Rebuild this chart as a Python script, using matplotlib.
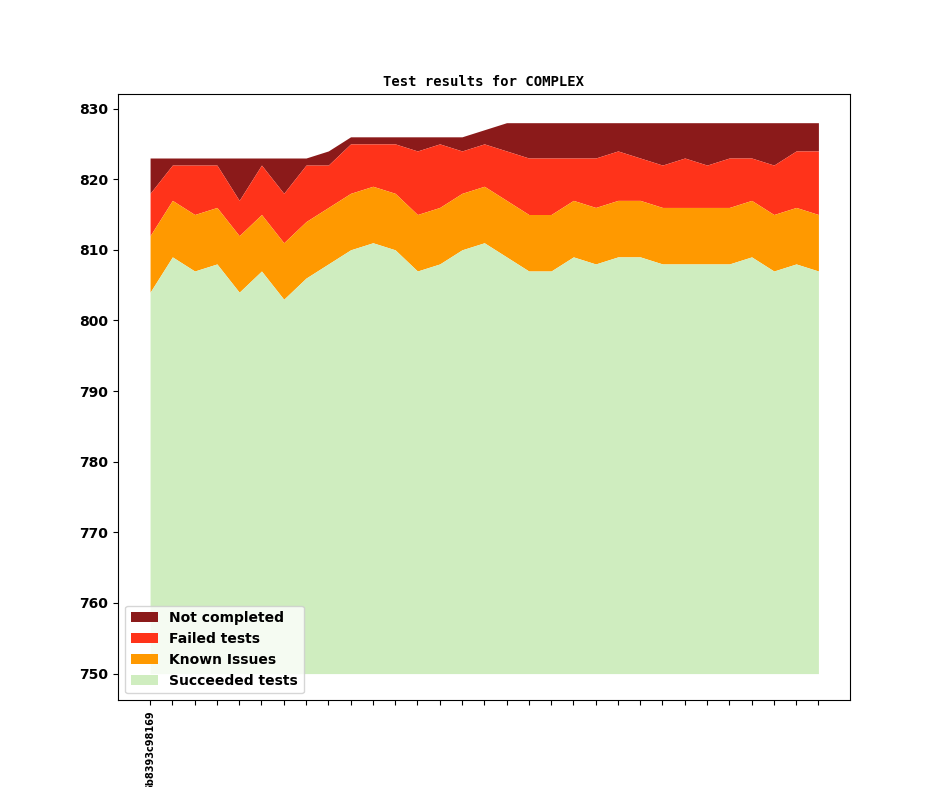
import numpy as np
import matplotlib.pyplot as plt

plt.rcParams['font.weight'] = 'bold'

succeeded = [804, 809, 807, 808, 804, 807, 803, 806, 808, 810, 811, 810, 807, 808, 810, 811,
             809, 807, 807, 809, 808, 809, 809, 808, 808, 808, 808, 809, 807, 808, 807]
known = [8] * 31
failed_top = [818, 822, 822, 822, 817, 822, 818, 822, 822, 825, 825, 825, 824, 825, 824, 825,
              824, 823, 823, 823, 823, 824, 823, 822, 823, 822, 823, 823, 822, 824, 824]
total = [823, 823, 823, 823, 823, 823, 823, 823, 824, 826, 826, 826, 826, 826, 826, 827,
         828, 828, 828, 828, 828, 828, 828, 828, 828, 828, 828, 828, 828, 828, 828]
labels = ['6b8393c98169'] + [''] * 30

x = np.arange(len(succeeded))
s = np.array(succeeded)
k = s + np.array(known)
f = np.array(failed_top)
t = np.array(total)

fig, ax = plt.subplots(figsize=(9.44, 7.87), dpi=100)
ax.fill_between(x, f, t, color='#8b1a1a', lw=0, label='Not completed')
ax.fill_between(x, k, f, color='#ff331a', lw=0, label='Failed tests')
ax.fill_between(x, s, k, color='#ff9900', lw=0, label='Known Issues')
ax.fill_between(x, 750, s, color='#cfedbf', lw=0, label='Succeeded tests')

ax.set_xlim(-1.44, 31.4)
ax.set_ylim(746.2, 832)
ax.set_xticks(x)
ax.set_xticklabels(labels, rotation=90, fontsize=7)
ax.set_title('Test results for COMPLEX', family='monospace', fontsize=10, fontweight='bold')
ax.legend(loc='lower left', prop={'weight': 'bold', 'size': 10})

plt.savefig('out.png')
